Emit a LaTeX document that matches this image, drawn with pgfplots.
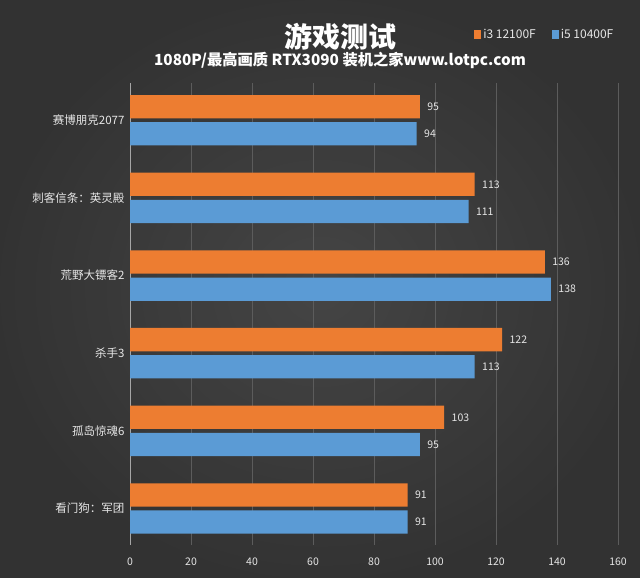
\documentclass[border=0pt]{standalone}
\usepackage{fontspec}
\setmainfont{Noto Sans CJK SC}
\usepackage{pgfplots}
\pgfplotsset{compat=1.18}

\definecolor{bgcol}{HTML}{444444}
\definecolor{gridcol}{HTML}{5C5C5C}
\definecolor{txtcol}{HTML}{E6E6E6}
\definecolor{i3col}{HTML}{ED7D31}
\definecolor{i5col}{HTML}{5B9BD5}

\begin{document}
\begin{tikzpicture}[x=1bp,y=1bp]
% background, 640x578
\shade[inner color=gray!30!black!85, outer color=black!80!gray, shading=radial] (0,0) rectangle (640,578);
\fill[bgcol, opacity=0.6] (0,0) rectangle (640,578);

\node[text=white, font=\fontsize{28bp}{30bp}\selectfont\bfseries] at (340,541) {游戏测试};
\node[text=white, font=\fontsize{15.3bp}{17bp}\selectfont\bfseries] at (340,518) {1080P/最高画质 RTX3090 装机之家www.lotpc.com};

\begin{axis}[
    at={(130bp,33bp)}, anchor=south west,
    scale only axis, width=488bp, height=462bp,
    xbar, bar width=0.3,
    xmin=0, xmax=160, xtick={0,20,...,160},
    ymin=-0.48, ymax=5.47, y dir=reverse,
    ytick={0,...,5},
    yticklabels={赛博朋克2077, 刺客信条：英灵殿, 荒野大镖客2, 杀手3, 孤岛惊魂6, 看门狗：军团},
    axis x line*=bottom, axis y line*=left,
    x axis line style={draw=none},
    y axis line style={draw=gray!70, line width=1bp},
    xmajorgrids, grid style={draw=gridcol, line width=0.8bp},
    major tick length=0pt,
    /pgf/number format/assume math mode=true,
    xticklabel style={text=txtcol, font=\fontsize{10.5bp}{12bp}\selectfont, yshift=-9bp},
    yticklabel style={text=txtcol, font=\fontsize{11.5bp}{14bp}\selectfont, xshift=-2bp},
    nodes near coords,
    nodes near coords style={text=txtcol, font=\fontsize{10.5bp}{12bp}\selectfont, xshift=4bp},
    legend style={at={(axis description cs:0.85,1.104)}, anchor=center,
        fill=none, draw=none, text=txtcol, legend columns=2,
        font=\fontsize{12bp}{14bp}\selectfont,
        /tikz/every even column/.append style={column sep=14bp}},
    legend image code/.code={\fill[#1] (0bp,-4.5bp) rectangle (7bp,4.5bp);},
]
\addplot[fill=i3col, draw=none, bar shift=-0.175] coordinates {
    (95,0) (113,1) (136,2) (122,3) (103,4) (91,5)};
\addlegendentry{i3 12100F}
\addplot[fill=i5col, draw=none, bar shift=0.175] coordinates {
    (94,0) (111,1) (138,2) (113,3) (95,4) (91,5)};
\addlegendentry{i5 10400F}
\end{axis}
\end{tikzpicture}
\end{document}
